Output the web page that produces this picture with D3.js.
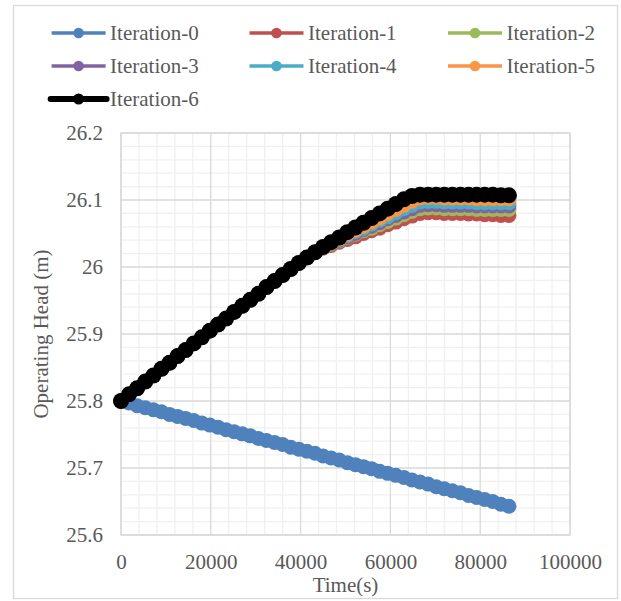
<!DOCTYPE html>
<html>
<head>
<meta charset="utf-8">
<script src="https://cdn.jsdelivr.net/npm/d3@7/dist/d3.min.js"></script>
<style>
  html, body { margin: 0; padding: 0; background: #fff; }
  svg { display: block; }
</style>
</head>
<body>
<svg id="chart" width="621" height="601"></svg>
<script>
// ---- data ----
const times = [0, 1800, 3600, 5400, 7200, 9000, 10800, 12600, 14400, 16200, 18000, 19800,
  21600, 23400, 25200, 27000, 28800, 30600, 32400, 34200, 36000, 37800, 39600, 41400,
  43200, 45000, 46800, 48600, 50400, 52200, 54000, 55800, 57600, 59400, 61200, 63000,
  64800, 66600, 68400, 70200, 72000, 73800, 75600, 77400, 79200, 81000, 82800, 84600, 86400];

const seriesNames = ["Iteration-0", "Iteration-1", "Iteration-2", "Iteration-3", "Iteration-4", "Iteration-5", "Iteration-6"];
const seriesColors = ["#4F81BD", "#C0504D", "#9BBB59", "#8064A2", "#4BACC6", "#F79646", "#000000"];

const iter0 = [25.800, 25.797, 25.793, 25.790, 25.787, 25.784, 25.780, 25.777, 25.774, 25.771, 25.767, 25.764,
  25.761, 25.757, 25.754, 25.751, 25.748, 25.744, 25.741, 25.738, 25.735, 25.731, 25.728, 25.725,
  25.722, 25.718, 25.715, 25.712, 25.708, 25.705, 25.702, 25.699, 25.695, 25.692, 25.689, 25.686,
  25.682, 25.679, 25.676, 25.672, 25.669, 25.666, 25.663, 25.659, 25.656, 25.653, 25.650, 25.646, 25.643];
const iter1 = [25.800, 25.810, 25.819, 25.829, 25.838, 25.848, 25.857, 25.867, 25.876, 25.886, 25.895, 25.905,
  25.914, 25.923, 25.933, 25.942, 25.951, 25.960, 25.970, 25.979, 25.988, 25.997, 26.006, 26.014,
  26.022, 26.028, 26.032, 26.037, 26.041, 26.045, 26.050, 26.054, 26.058, 26.063, 26.067, 26.072,
  26.076, 26.080, 26.081, 26.081, 26.080, 26.080, 26.080, 26.079, 26.079, 26.078, 26.078, 26.077, 26.077];
const iter2 = [25.800, 25.810, 25.819, 25.829, 25.838, 25.848, 25.857, 25.867, 25.876, 25.886, 25.895, 25.905,
  25.914, 25.923, 25.933, 25.942, 25.951, 25.960, 25.970, 25.979, 25.988, 25.997, 26.006, 26.014,
  26.022, 26.029, 26.034, 26.039, 26.044, 26.049, 26.054, 26.058, 26.063, 26.068, 26.073, 26.078,
  26.083, 26.087, 26.088, 26.088, 26.087, 26.087, 26.087, 26.087, 26.086, 26.086, 26.086, 26.086, 26.086];
const iter3 = [25.800, 25.810, 25.819, 25.829, 25.838, 25.848, 25.857, 25.867, 25.876, 25.886, 25.895, 25.905,
  25.914, 25.923, 25.933, 25.942, 25.951, 25.960, 25.970, 25.979, 25.988, 25.997, 26.006, 26.014,
  26.022, 26.029, 26.035, 26.040, 26.045, 26.050, 26.056, 26.061, 26.066, 26.072, 26.077, 26.082,
  26.087, 26.092, 26.093, 26.093, 26.092, 26.092, 26.092, 26.092, 26.091, 26.091, 26.091, 26.091, 26.091];
const iter4 = [25.800, 25.810, 25.819, 25.829, 25.838, 25.848, 25.857, 25.867, 25.876, 25.886, 25.895, 25.905,
  25.914, 25.923, 25.933, 25.942, 25.951, 25.960, 25.970, 25.979, 25.988, 25.997, 26.006, 26.014,
  26.022, 26.030, 26.036, 26.041, 26.047, 26.053, 26.058, 26.064, 26.070, 26.075, 26.081, 26.087,
  26.092, 26.097, 26.098, 26.098, 26.097, 26.097, 26.097, 26.097, 26.096, 26.096, 26.096, 26.096, 26.096];
const iter5 = [25.800, 25.810, 25.819, 25.829, 25.838, 25.848, 25.857, 25.867, 25.876, 25.886, 25.895, 25.905,
  25.914, 25.923, 25.933, 25.942, 25.951, 25.960, 25.970, 25.979, 25.988, 25.997, 26.006, 26.014,
  26.022, 26.030, 26.036, 26.042, 26.049, 26.055, 26.061, 26.067, 26.073, 26.080, 26.086, 26.092,
  26.098, 26.103, 26.104, 26.104, 26.103, 26.103, 26.103, 26.103, 26.102, 26.102, 26.102, 26.102, 26.102];
const iter6 = [25.800, 25.810, 25.819, 25.829, 25.838, 25.848, 25.857, 25.867, 25.876, 25.886, 25.895, 25.905,
  25.914, 25.923, 25.933, 25.942, 25.951, 25.960, 25.970, 25.979, 25.988, 25.997, 26.006, 26.014,
  26.022, 26.030, 26.037, 26.044, 26.052, 26.059, 26.066, 26.073, 26.080, 26.087, 26.094, 26.101,
  26.106, 26.108, 26.108, 26.108, 26.108, 26.108, 26.108, 26.108, 26.108, 26.108, 26.108, 26.107, 26.107];

const seriesValues = [iter0, iter1, iter2, iter3, iter4, iter5, iter6];

const xTickValues = [0, 20000, 40000, 60000, 80000, 100000];
const xTickLabels = ["0", "20000", "40000", "60000", "80000", "100000"];
const yTickValues = [25.6, 25.7, 25.8, 25.9, 26.0, 26.1, 26.2];
const yTickLabels = ["25.6", "25.7", "25.8", "25.9", "26", "26.1", "26.2"];

const xTitle = "Time(s)";
const yTitle = "Operating Head (m)";

// ---- layout ----
const svg = d3.select("#chart");
const plot = { left: 121, right: 570, top: 133, bottom: 535 };
const x = d3.scaleLinear().domain([0, 100000]).range([plot.left, plot.right]);
const y = d3.scaleLinear().domain([25.6, 26.2]).range([plot.bottom, plot.top]);
const FS = 21;
const FF = "'Liberation Serif', 'Times New Roman', serif";
const TC = "#595959";

// outer border
svg.append("rect").attr("x", 13.5).attr("y", 5.5).attr("width", 604).attr("height", 593)
  .attr("fill", "#fff").attr("stroke", "#d9d9d9").attr("stroke-width", 1.3);

// gridlines
const g = svg.append("g");
const xMinor = d3.range(0, 100001, 4000).filter(v => v % 20000 !== 0);
const yMinorIdx = d3.range(0, 31).filter(i => i % 5 !== 0);
g.selectAll(".xminor").data(xMinor).join("line")
  .attr("x1", d => x(d)).attr("x2", d => x(d)).attr("y1", plot.top).attr("y2", plot.bottom)
  .attr("stroke", "#f0f0f0").attr("stroke-width", 1.3);
g.selectAll(".yminor").data(yMinorIdx).join("line")
  .attr("x1", plot.left).attr("x2", plot.right)
  .attr("y1", i => y(25.6 + i * 0.02)).attr("y2", i => y(25.6 + i * 0.02))
  .attr("stroke", "#f0f0f0").attr("stroke-width", 1.3);
g.selectAll(".xmajor").data(xTickValues).join("line")
  .attr("x1", d => x(d)).attr("x2", d => x(d)).attr("y1", plot.top).attr("y2", plot.bottom)
  .attr("stroke", "#d9d9d9").attr("stroke-width", 1.3);
g.selectAll(".ymajor").data(yTickValues).join("line")
  .attr("x1", plot.left).attr("x2", plot.right).attr("y1", d => y(d)).attr("y2", d => y(d))
  .attr("stroke", "#d9d9d9").attr("stroke-width", 1.3);
g.append("rect").attr("x", plot.left).attr("y", plot.top)
  .attr("width", plot.right - plot.left).attr("height", plot.bottom - plot.top)
  .attr("fill", "none").attr("stroke", "#d9d9d9").attr("stroke-width", 1.3);

// axes
const yAxis = d3.axisLeft(y).tickValues(yTickValues).tickFormat((d, i) => yTickLabels[i]).tickSize(0).tickPadding(18);
const ya = svg.append("g").attr("transform", `translate(${plot.left},0)`).call(yAxis);
ya.attr("font-family", FF).attr("font-size", FS);
ya.select(".domain").remove();
ya.selectAll("text").attr("fill", TC).style("font-family", FF);

const xAxis = d3.axisBottom(x).tickValues(xTickValues).tickFormat((d, i) => xTickLabels[i]).tickSize(0);
const xa = svg.append("g").attr("transform", `translate(0,${plot.bottom})`).call(xAxis);
xa.attr("font-family", FF).attr("font-size", FS);
xa.select(".domain").remove();
xa.selectAll("text").attr("dy", null).attr("y", 34).attr("fill", TC).style("font-family", FF);

// titles
svg.append("text").attr("x", (plot.left + plot.right) / 2).attr("y", 592)
  .attr("text-anchor", "middle").style("font-family", FF).attr("font-size", FS).attr("fill", TC).text(xTitle);
svg.append("text").attr("transform", `translate(48,${(plot.top + plot.bottom) / 2}) rotate(-90)`)
  .attr("text-anchor", "middle").style("font-family", FF).attr("font-size", FS).attr("fill", TC).text(yTitle);

// series
const line = d3.line().x((d, i) => x(times[i])).y(d => y(d));
seriesValues.forEach((vals, si) => {
  const isLast = si === 6;
  const sg = svg.append("g");
  sg.append("path").datum(vals).attr("d", line).attr("fill", "none")
    .attr("stroke", seriesColors[si]).attr("stroke-width", isLast ? 6 : 3).attr("stroke-linejoin", "round");
  sg.selectAll("circle").data(vals).join("circle")
    .attr("cx", (d, i) => x(times[i])).attr("cy", d => y(d)).attr("r", isLast ? 8 : 7.5)
    .attr("fill", seriesColors[si]);
});

// legend
const legCols = [51.6, 249.5, 448];
const legRows = [33, 66, 99];
seriesNames.forEach((name, i) => {
  const cx = legCols[i % 3], cy = legRows[Math.floor(i / 3)];
  const isLast = i === 6;
  const lg = svg.append("g");
  lg.append("line").attr("x1", isLast ? cx - 1 : cx).attr("x2", isLast ? cx + 55 : cx + 54)
    .attr("y1", cy).attr("y2", cy).attr("stroke", seriesColors[i]).attr("stroke-width", isLast ? 6 : 3.5)
    .attr("stroke-linecap", isLast ? "round" : "butt");
  lg.append("circle").attr("cx", cx + 27).attr("cy", cy).attr("r", isLast ? 5.5 : 5.3).attr("fill", seriesColors[i]);
  lg.append("text").attr("x", cx + 58.5).attr("y", cy + 7).style("font-family", FF)
    .attr("font-size", FS).attr("fill", TC).text(name);
});
</script>
</body>
</html>
